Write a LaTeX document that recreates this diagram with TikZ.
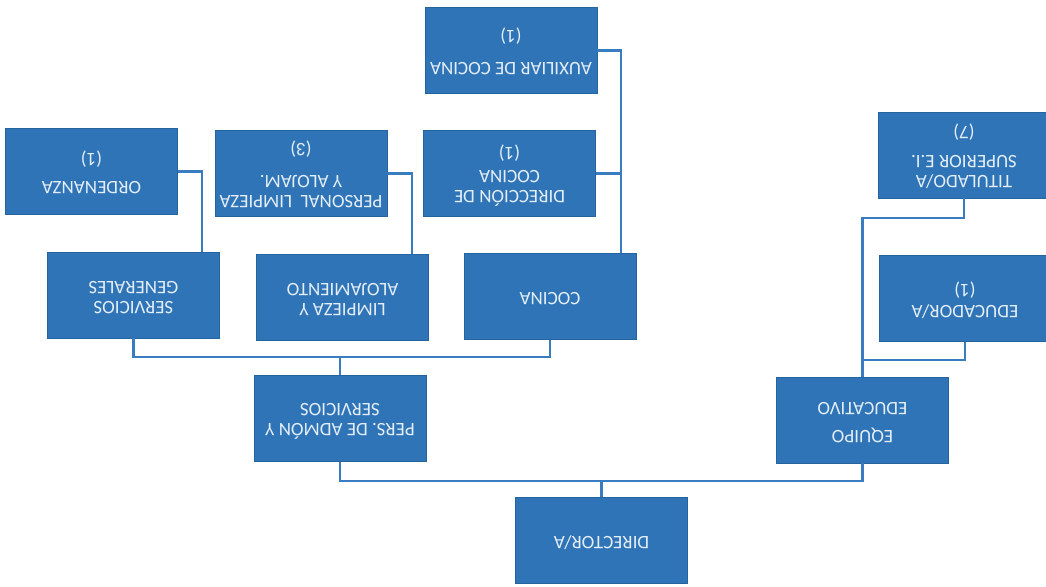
\documentclass[tikz,border=0pt]{standalone}
\usepackage{fontspec}
\setmainfont{Carlito}
\usepackage{graphicx}
\usetikzlibrary{calc}
\definecolor{boxblue}{HTML}{2F74B6}
\definecolor{boxedge}{HTML}{26649F}
\definecolor{lineblue}{HTML}{3A7CC0}
\definecolor{txt}{HTML}{E4EEF8}
\newcommand{\ud}[1]{\rotatebox[origin=c]{180}{\begin{tabular}{@{}c@{}}#1\end{tabular}}}
\tikzset{
  orgbox/.style={rectangle, fill=boxblue, draw=boxedge, line width=0.6pt,
    minimum width=172pt, minimum height=86pt, inner sep=0pt,
    text=txt, font=\fontsize{19}{20}\selectfont},
  conn/.style={draw=lineblue, line width=2.4pt}
}
\begin{document}
\begin{tikzpicture}[x=1pt,y=-1pt]
\useasboundingbox (0,0) rectangle (1046,586);
\fill[white] (0,0) rectangle (1046,586);
\node[orgbox] (aux)  at (511,50.5)   {\ud{AUXILIAR DE COCINA\\[12pt](1)}};
\node[orgbox] (dc)   at (509.5,173.5){\ud{DIRECCIÓN DE\\COCINA\\[3pt](1)}};
\node[orgbox] (ord)  at (91.5,171.5) {\ud{ORDENANZA\\[8pt](1)}};
\node[orgbox] (pl)   at (301,173.5)  {\ud{PERSONAL\ \ LIMPIEZA\\Y ALOJAM.\\[12pt](3)}};
\node[orgbox] (sg)   at (133.5,295)  {\ud{SERVICIOS\\GENERALES}};
\node[orgbox] (lim)  at (342.5,297)  {\ud{LIMPIEZA Y\\ALOJAMIENTO}};
\node[orgbox] (coc)  at (550,296.5)  {\ud{COCINA}};
\node[orgbox] (educ) at (965,298.5)  {\ud{EDUCADOR/A\\[1pt](1)}};
\node[orgbox] (tit)  at (964,155)    {\ud{TITULADO/A\\SUPERIOR E.I.\\[9pt](7)}};
\node[orgbox] (eq)   at (862.5,420)  {\ud{EQUIPO\\[8pt]EDUCATIVO}};
\node[orgbox] (pers) at (340,418.5)  {\ud{PERS. DE ADMÓN Y\\SERVICIOS}};
\node[orgbox] (dir)  at (601.5,540)  {\ud{DIRECTOR/A}};
% bus coordinates
\coordinate (b1) at (0,481);
\coordinate (b2) at (0,357);
\coordinate (b3) at (0,218);
\coordinate (b4) at (0,360);
\coordinate (kx) at ([xshift=71pt]coc.north);
\coordinate (sx) at ([xshift=68.5pt]sg.north);
\coordinate (lx) at ([xshift=69.5pt]lim.north);
% level 1
\draw[conn] (pers.south) -- (pers.south |- b1) -- (eq.south |- b1) -- (eq.south);
\draw[conn] (dir.north) -- (dir.north |- b1);
% admin branch
\draw[conn] (sg.south) -- (sg.south |- b2) -- (coc.south |- b2) -- (coc.south);
\draw[conn] (pers.north) -- (pers.north |- b2);
\draw[conn] (ord.east) -| (sx);
\draw[conn] (pl.east) -| (lx);
\draw[conn] (aux.east) -| (kx);
\draw[conn] (dc.east) -- (dc.east -| kx);
% education branch
\draw[conn] (eq.north) -- (eq.north |- b3) -| (tit.south);
\draw[conn] (educ.south) -- (educ.south |- b4) -- (eq.north |- b4);
\end{tikzpicture}
\end{document}
